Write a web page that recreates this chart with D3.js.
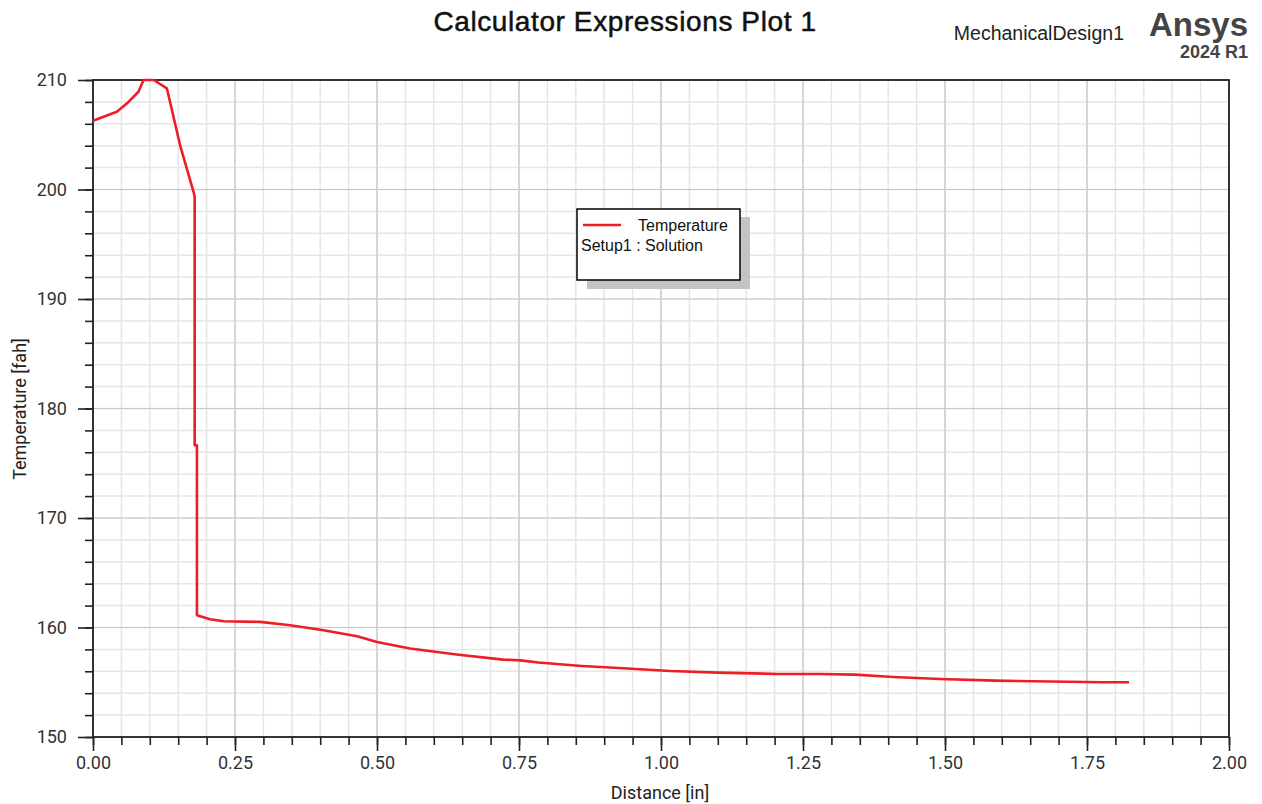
<!DOCTYPE html>
<html><head><meta charset="utf-8">
<script src="https://cdn.jsdelivr.net/npm/d3@7"></script>
<style>
html,body{margin:0;padding:0;background:#fff;}
text{font-family:"Liberation Sans",Arial,sans-serif;}
</style></head>
<body>
<svg id="chart" width="1262" height="804"></svg>
<script>
// Data
const distance = [0.000,0.042,0.060,0.080,0.089,0.107,0.130,0.154,0.177,0.179,0.179,0.183,0.183,0.206,0.230,0.294,0.347,0.406,0.465,0.500,0.558,0.640,0.722,0.752,0.784,0.822,0.860,0.910,0.963,1.016,1.101,1.206,1.280,1.341,1.409,1.491,1.588,1.778,1.824];
const temperature = [206.28,207.10,207.87,208.93,210.00,210.00,209.24,203.91,199.79,199.34,176.65,176.65,161.12,160.75,160.57,160.51,160.20,159.75,159.20,158.68,158.08,157.53,157.07,157.00,156.80,156.64,156.49,156.34,156.19,156.03,155.88,155.76,155.76,155.70,155.48,155.30,155.15,155.00,155.00];
const xTicks = [0,0.25,0.5,0.75,1.0,1.25,1.5,1.75,2.0];
const yTicks = [150,160,170,180,190,200,210];
const xDomain = [0,2];
const yDomain = [150,210];

const svg = d3.select("#chart");
const L = 93, R = 1229, T = 80, B = 737;
const x = d3.scaleLinear().domain(xDomain).range([L,R]);
const y = d3.scaleLinear().domain(yDomain).range([B,T]);

const xMinor = d3.range(0,2.0001,0.05);
const yMinor = d3.range(150,210.0001,2);

const g = svg.append("g");
// minor grid
g.selectAll(".xm").data(xMinor).enter().append("line")
  .attr("x1",d=>x(d)).attr("x2",d=>x(d)).attr("y1",T).attr("y2",B)
  .attr("stroke","#e6e6e6").attr("stroke-width",1.5);
g.selectAll(".ym").data(yMinor).enter().append("line")
  .attr("x1",L).attr("x2",R).attr("y1",d=>y(d)).attr("y2",d=>y(d))
  .attr("stroke","#e6e6e6").attr("stroke-width",1.5);
// major grid
g.selectAll(".xM").data(xTicks).enter().append("line")
  .attr("x1",d=>x(d)).attr("x2",d=>x(d)).attr("y1",T).attr("y2",B)
  .attr("stroke","#c8c8c8").attr("stroke-width",1.2);
g.selectAll(".yM").data(yTicks).enter().append("line")
  .attr("x1",L).attr("x2",R).attr("y1",d=>y(d)).attr("y2",d=>y(d))
  .attr("stroke","#c8c8c8").attr("stroke-width",1.2);

// axes (ticks)
const axisColor = "#222";
const xAxisMinor = d3.axisBottom(x).tickValues(xMinor).tickSize(8).tickFormat("");
const xAxis = d3.axisBottom(x).tickValues(xTicks).tickSize(14).tickPadding(5).tickFormat(d3.format(".2f"));
const yAxisMinor = d3.axisLeft(y).tickValues(yMinor).tickSize(8).tickFormat("");
const yAxis = d3.axisLeft(y).tickValues(yTicks).tickSize(15).tickPadding(11).tickFormat(d3.format("d"));

function style(sel){
  sel.select(".domain").remove();
  sel.selectAll("line").attr("stroke",axisColor).attr("stroke-width",1.6);
  sel.selectAll("text").attr("fill","#333").style("font-size","18px").style("font-family","Roboto, 'Liberation Sans', sans-serif");
}
svg.append("g").attr("transform",`translate(0,${B})`).call(xAxisMinor).call(style);
svg.append("g").attr("transform",`translate(0,${B})`).call(xAxis).call(style);
svg.append("g").attr("transform",`translate(${L},0)`).call(yAxisMinor).call(style);
svg.append("g").attr("transform",`translate(${L},0)`).call(yAxis).call(style);

// frame
svg.append("rect").attr("x",L).attr("y",T).attr("width",R-L).attr("height",B-T)
  .attr("fill","none").attr("stroke",axisColor).attr("stroke-width",1.8);

// data line
const pts = distance.map((d,i)=>[d,temperature[i]]);
svg.append("path").datum(pts)
  .attr("d",d3.line().x(d=>x(d[0])).y(d=>y(d[1])))
  .attr("fill","none").attr("stroke","#ee1c25").attr("stroke-width",2.6)
  .attr("stroke-linejoin","round");

// legend
const lg = svg.append("g");
lg.append("rect").attr("x",587).attr("y",217).attr("width",163).attr("height",72).attr("fill","#c4c4c4");
lg.append("rect").attr("x",577).attr("y",209).attr("width",163).attr("height",71).attr("fill","#fff").attr("stroke","#000").attr("stroke-width",1.5);
lg.append("line").attr("x1",583).attr("x2",621).attr("y1",225).attr("y2",225).attr("stroke","#ee1c25").attr("stroke-width",2.6);
lg.append("text").attr("x",638).attr("y",231).text("Temperature").style("font-size","16px").attr("fill","#111");
lg.append("text").attr("x",581).attr("y",251).text("Setup1 : Solution").style("font-size","16px").attr("fill","#111");

// titles
svg.append("text").attr("x",625).attr("y",31).attr("text-anchor","middle")
  .text("Calculator Expressions Plot 1").style("font-size","28px").style("letter-spacing","0.6px").attr("fill","#111")
  .attr("stroke","#111").attr("stroke-width",0.5);
svg.append("text").attr("x",1124).attr("y",40).attr("text-anchor","end")
  .text("MechanicalDesign1").style("font-size","19.5px").attr("fill","#222");
svg.append("text").attr("x",1248).attr("y",36).attr("text-anchor","end")
  .text("Ansys").style("font-size","33px").style("font-weight","bold").attr("fill","#444");
svg.append("text").attr("x",1248).attr("y",58).attr("text-anchor","end")
  .text("2024 R1").style("font-size","18px").style("font-weight","bold").attr("fill","#444");

// axis titles
svg.append("text").attr("x",660).attr("y",799).attr("text-anchor","middle")
  .text("Distance [in]").style("font-size","18px").style("font-family","Roboto, sans-serif").attr("fill","#222");
svg.append("text").attr("transform","translate(26,409) rotate(-90)").attr("text-anchor","middle")
  .text("Temperature [fah]").style("font-size","18px").style("font-family","Roboto, sans-serif").attr("fill","#222");
</script>
</body></html>
